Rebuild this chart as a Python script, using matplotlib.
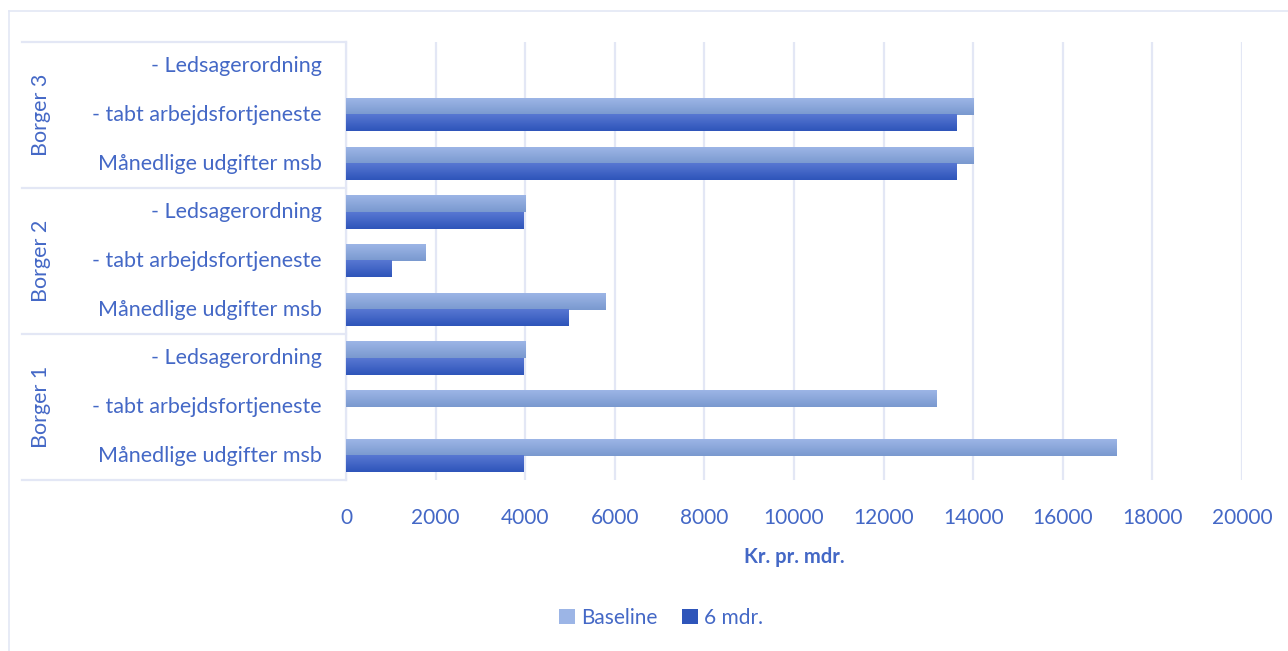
import numpy as np
import matplotlib.pyplot as plt
import matplotlib.transforms as mtransforms
from matplotlib.colors import to_rgb
from matplotlib.patches import Patch

plt.rcParams["font.family"] = ["Lato", "DejaVu Sans"]

TEXT_COLOR = "#4468C6"
GRID_COLOR = "#E3E7F5"
BASE_TOP, BASE_BOTTOM = "#9CB5E6", "#7A99CF"
MDR_TOP, MDR_BOTTOM = "#5877D2", "#2E55BA"

# data (bottom to top, as drawn)
groups = ["Borger 1", "Borger 2", "Borger 3"]
items = ["Månedlige udgifter msb", "- tabt arbejdsfortjeneste", "- Ledsagerordning"]
baseline = [17190, 13180, 4000,   # Borger 1
            5790, 1770, 4000,     # Borger 2
            14000, 14000, 0]      # Borger 3
six_mdr = [3970, 0, 3960,
           4960, 1010, 3960,
           13620, 13620, 0]
x_ticks = [0, 2000, 4000, 6000, 8000, 10000, 12000, 14000, 16000, 18000, 20000]


def gradient_bars(ax, bars, top, bottom):
    c_top = np.array(to_rgb(top))
    c_bot = np.array(to_rgb(bottom))
    t = np.linspace(0, 1, 64)[:, None, None]
    img = c_bot + (c_top - c_bot) * t
    for b in bars:
        w = b.get_width()
        if w <= 0:
            continue
        y0 = b.get_y()
        h = b.get_height()
        ax.imshow(img, extent=(0, w, y0, y0 + h), origin="lower",
                  aspect="auto", zorder=3, interpolation="bilinear")
        b.set_visible(False)


fig = plt.figure(figsize=(12.88, 6.51), dpi=100)
ax = fig.add_axes([346 / 1288, 1 - 480 / 651, 896 / 1288, 438 / 651])

n = len(baseline)
y = np.arange(n)
h = 0.335
bars_b = ax.barh(y + h / 2, baseline, height=h, color=BASE_TOP, zorder=3)
bars_m = ax.barh(y - h / 2, six_mdr, height=h, color=MDR_BOTTOM, zorder=3)
gradient_bars(ax, bars_b, BASE_TOP, BASE_BOTTOM)
gradient_bars(ax, bars_m, MDR_TOP, MDR_BOTTOM)

ax.set_xlim(0, 20000)
ax.set_ylim(-0.5, n - 0.5)
ax.set_xticks(x_ticks)
ax.set_xticklabels([str(t) for t in x_ticks], fontsize=15, color=TEXT_COLOR)
ax.tick_params(axis="x", length=0, pad=20)
ax.set_yticks([])
ax.grid(axis="x", color=GRID_COLOR, linewidth=1.6, zorder=0)
for s in ["top", "right", "bottom"]:
    ax.spines[s].set_visible(False)
ax.spines["left"].set_color(GRID_COLOR)
ax.spines["left"].set_linewidth(1.6)
ax.set_xlabel("Kr. pr. mdr.", fontsize=14.5, fontweight="bold",
              color=TEXT_COLOR, labelpad=14)

# multi level category axis
trans = mtransforms.blended_transform_factory(fig.transFigure, ax.transData)
for i in range(n):
    ax.text(322 / 1288, y[i], items[i % 3], transform=trans, ha="right",
            va="center", fontsize=15.5, color=TEXT_COLOR)
for g, name in enumerate(groups):
    ax.text(41 / 1288, g * 3 + 1, name, transform=trans, ha="center",
            va="center", rotation=90, fontsize=15.5, color=TEXT_COLOR)
for b in np.arange(-0.5, n, 3):
    ax.plot([22 / 1288, 346 / 1288], [b, b], transform=trans,
            color=GRID_COLOR, linewidth=1.6, clip_on=False)

# outer chart frame (only top/left visible)
fig.add_artist(plt.Line2D([9 / 1288, 9 / 1288], [0, 1 - 11 / 651],
                          transform=fig.transFigure, color=GRID_COLOR, linewidth=1.2))
fig.add_artist(plt.Line2D([9 / 1288, 1], [1 - 11 / 651, 1 - 11 / 651],
                          transform=fig.transFigure, color=GRID_COLOR, linewidth=1.2))

handles = [Patch(facecolor=BASE_TOP), Patch(facecolor=MDR_BOTTOM)]
fig.legend(handles, ["Baseline", "6 mdr."], loc="center",
           bbox_to_anchor=(661 / 1288, 1 - 618 / 651), ncol=2, frameon=False,
           fontsize=15, labelcolor=TEXT_COLOR, handlelength=0.75,
           handleheight=0.75, handletextpad=0.3, columnspacing=1.2)

fig.savefig("out.png", dpi=100)
